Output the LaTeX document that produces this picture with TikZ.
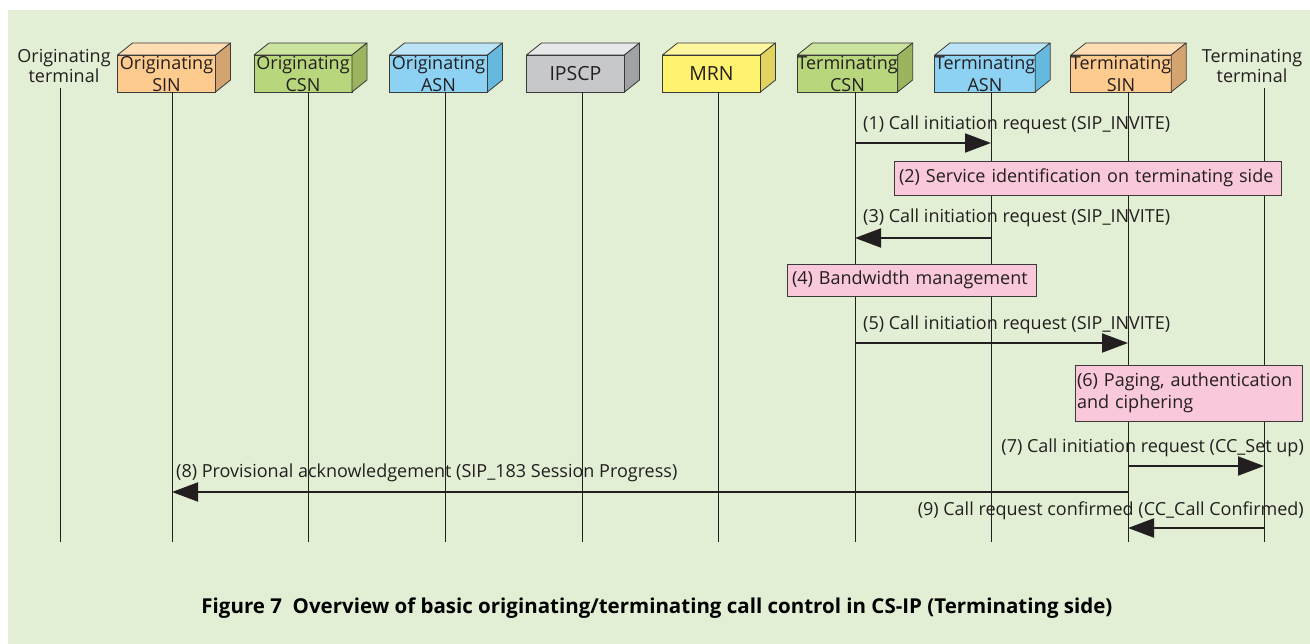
\documentclass[tikz,border=0pt]{standalone}
\usepackage{fontspec}
\setmainfont{Open Sans}
\usetikzlibrary{arrows.meta,calc}
\definecolor{bg}{HTML}{E2EFD4}
\definecolor{ink}{HTML}{231F20}
\definecolor{edge}{HTML}{3A3A3A}
\definecolor{pinkf}{HTML}{F9C8DA}
\definecolor{sinF}{HTML}{FECB8F}\definecolor{sinT}{HTML}{FEDCB4}\definecolor{sinS}{HTML}{D3A470}
\definecolor{csnF}{HTML}{B8D67C}\definecolor{csnT}{HTML}{CBE39F}\definecolor{csnS}{HTML}{9AB55E}
\definecolor{asnF}{HTML}{8ED2F3}\definecolor{asnT}{HTML}{BBE4F7}\definecolor{asnS}{HTML}{66B9DE}
\definecolor{ipF}{HTML}{C7C8CA}\definecolor{ipT}{HTML}{E6E7E8}\definecolor{ipS}{HTML}{A1A2A5}
\definecolor{mrnF}{HTML}{FFF26F}\definecolor{mrnT}{HTML}{FFF7A0}\definecolor{mrnS}{HTML}{E0D45E}
\newcommand\mycube[4]{%
  \node[cubefront, fill=#3F] (#1) at (#2,73.5) {#4};
  \draw[cubeedge, fill=#3T] (#1.north west) -- ++(15,-12) -- ($(#1.north east)+(15,-12)$) -- (#1.north east) -- cycle;
  \draw[cubeedge, fill=#3S] (#1.north east) -- ++(15,-12) -- ($(#1.south east)+(15,-12)$) -- (#1.south east) -- cycle;
}
\begin{document}
\begin{tikzpicture}[x=1pt,y=-1pt,
  every node/.style={text=ink, font=\fontsize{18}{22}\selectfont},
  cubefront/.style={draw=edge, line width=0.8pt, minimum width=98pt, minimum height=37pt, inner sep=0pt, outer sep=0pt, align=center},
  cubeedge/.style={draw=edge, line width=0.8pt, line join=round},
  life/.style={draw=ink, line width=0.8pt},
  msg/.style={draw=ink, line width=2pt, -{Triangle[length=26pt,width=19pt]}},
  note/.style={draw=edge, line width=0.8pt, fill=pinkf, anchor=north west, inner xsep=5pt, inner ysep=0pt, outer sep=0pt, align=left},
  lbl/.style={inner sep=0pt}
]
\fill[white] (0,0) rectangle (1310,644);
\useasboundingbox (0,0) rectangle (1310,644);
\fill[bg] (8,10) rectangle (1310,644);

% terminals
\node[align=center, inner sep=0pt, font=\fontsize{18}{20}\selectfont] (oterm) at (64,66) {Originating\\terminal};
\node[align=center, inner sep=0pt, font=\fontsize{18}{20}\selectfont] (tterm) at (1252,66) {Terminating\\terminal};

% cubes
\mycube{osin}{166.5}{sin}{Originating\\SIN}
\mycube{ocsn}{303}{csn}{Originating\\CSN}
\mycube{oasn}{438.5}{asn}{Originating\\ASN}
\mycube{ipscp}{575.5}{ip}{\fontsize{19.5}{22}\selectfont IPSCP}
\mycube{mrn}{711.5}{mrn}{\fontsize{19.5}{22}\selectfont MRN}
\mycube{tcsn}{847.5}{csn}{Terminating\\CSN}
\mycube{tasn}{985}{asn}{Terminating\\ASN}
\mycube{tsin}{1121}{sin}{Terminating\\SIN}

% lifelines
\coordinate (L1) at (60,88);   \coordinate (E1) at (60,542);
\coordinate (L2) at (172,92);  \coordinate (E2) at (172,542);
\coordinate (L3) at (308,92);  \coordinate (E3) at (308,542);
\coordinate (L4) at (445,92);  \coordinate (E4) at (445,542);
\coordinate (L5) at (582,92);  \coordinate (E5) at (582,542);
\coordinate (L6) at (718,92);  \coordinate (E6) at (718,542);
\coordinate (L7) at (855,92);  \coordinate (E7) at (855,542);
\coordinate (L8) at (991,92);  \coordinate (E8) at (991,542);
\coordinate (L9) at (1128,92); \coordinate (E9) at (1128,542);
\coordinate (L10) at (1264,88); \coordinate (E10) at (1264,542);
\foreach \i in {1,...,10} {\draw[life] (L\i) -- (E\i);}

% notes (drawn over lifelines)
\node[note, minimum width=387pt, minimum height=34pt, text width=377pt] (n2) at (894,161) {(2) Service identification on terminating side};
\node[note, minimum width=249pt, minimum height=32pt, text width=239pt] (n4) at (787,264) {(4) Bandwidth management};
\node[note, minimum width=227pt, minimum height=56pt, text width=223pt, inner xsep=2pt] (n6) at (1075,365) {(6) Paging, authentication\\and ciphering};

% message rows
\coordinate (r1) at (0,143);
\coordinate (r3) at (0,238);
\coordinate (r5) at (0,343);
\coordinate (r7) at (0,466);
\coordinate (r8) at (0,492);
\coordinate (r9) at (0,528);

\draw[msg] (L7|-r1) -- (L8|-r1);
\draw[msg] (L8|-r3) -- (L7|-r3);
\draw[msg] (L7|-r5) -- (L9|-r5);
\draw[msg] (L9|-r7) -- (L10|-r7);
\draw[msg] (L9|-r8) -- (L2|-r8);
\draw[msg] (L10|-r9) -- (L9|-r9);

\node[lbl, anchor=base west] (m1) at (863,130) {(1) Call initiation request (SIP\_INVITE)};
\node[lbl, anchor=base west] (m3) at (863,223) {(3) Call initiation request (SIP\_INVITE)};
\node[lbl, anchor=base west] (m5) at (863,330) {(5) Call initiation request (SIP\_INVITE)};
\node[lbl, anchor=base east] (m7) at (1304,452) {(7) Call initiation request (CC\_Set up)};
\node[lbl, anchor=base west] (m8) at (176,477) {(8) Provisional acknowledgement (SIP\_183 Session Progress)};
\node[lbl, anchor=base east] (m9) at (1304,515) {(9) Call request confirmed (CC\_Call Confirmed)};

% caption
\node[lbl, font=\fontsize{20.5}{24}\selectfont\bfseries, text=black] (cap) at (657,608) {Figure 7\ \ Overview of basic originating/terminating call control in CS-IP (Terminating side)};
\end{tikzpicture}
\end{document}
